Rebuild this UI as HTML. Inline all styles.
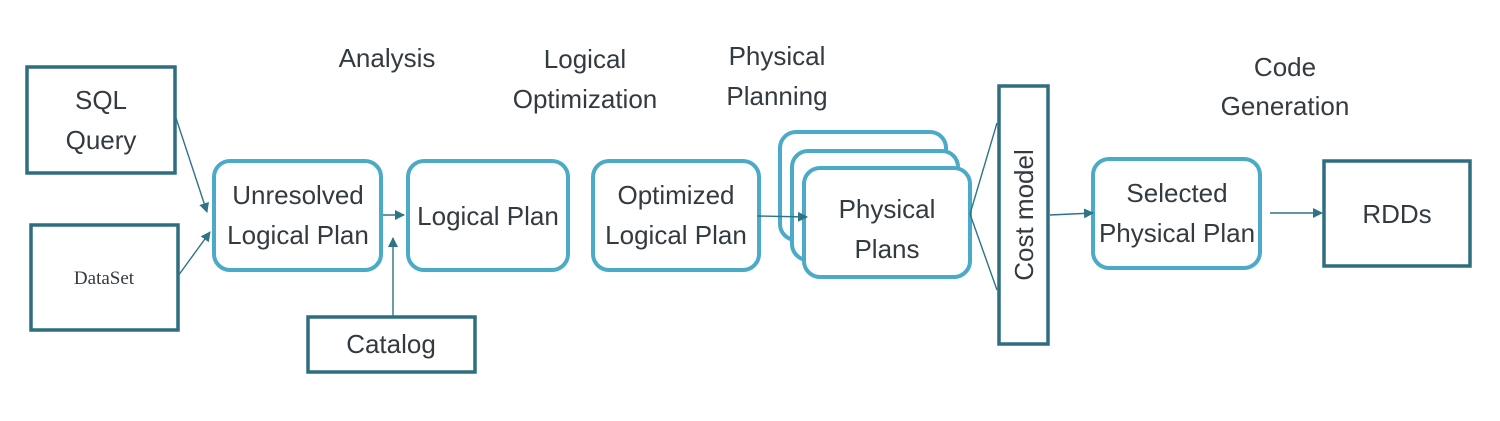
<!DOCTYPE html>
<html><head><meta charset="utf-8"><style>
html,body{margin:0;padding:0;background:#fff;}
svg{display:block;}
text{font-family:"Liberation Sans",sans-serif;fill:#333a40;font-size:26px;text-anchor:middle;}
</style></head><body>
<svg width="1500" height="421" viewBox="0 0 1500 421" xmlns="http://www.w3.org/2000/svg">
<defs>
<marker id="a" markerWidth="10" markerHeight="10" refX="9" refY="5" orient="auto" markerUnits="userSpaceOnUse">
<path d="M0,0 L10,5 L0,10 z" fill="#2e7486"/></marker>
</defs>
<g fill="none" stroke="#2e6e80" stroke-width="3.5">
<rect x="27" y="67" width="148" height="106"/>
<rect x="31" y="225" width="147" height="105"/>
<rect x="308" y="317" width="167" height="55"/>
<rect x="999" y="86" width="49" height="258"/>
<rect x="1324" y="161" width="146" height="105"/>
</g>
<g fill="#fff" stroke="#4aaac8" stroke-width="4">
<rect x="214" y="161" width="167" height="109" rx="16"/>
<rect x="408" y="161" width="160" height="109" rx="16"/>
<rect x="593" y="161" width="166" height="109" rx="16"/>
<rect x="780" y="132" width="166" height="108" rx="16"/>
<rect x="792" y="151" width="166" height="109" rx="16"/>
<rect x="804" y="168" width="166" height="109" rx="16"/>
<rect x="1093" y="159" width="167" height="109" rx="16"/>
</g>
<g stroke="#2e7486" stroke-width="1.4" fill="none">
<line x1="175" y1="115" x2="207" y2="212" marker-end="url(#a)"/>
<line x1="178" y1="276" x2="210" y2="232" marker-end="url(#a)"/>
<line x1="383" y1="215" x2="404" y2="215" marker-end="url(#a)"/>
<line x1="393" y1="316" x2="393" y2="238" marker-end="url(#a)"/>
<line x1="757" y1="216" x2="807" y2="217" marker-end="url(#a)"/>
<line x1="970" y1="214" x2="997" y2="123"/>
<line x1="970" y1="214" x2="997" y2="290"/>
<line x1="1050" y1="215" x2="1093" y2="213" marker-end="url(#a)"/>
<line x1="1270" y1="213" x2="1322" y2="213" marker-end="url(#a)"/>
</g>
<text x="101" y="109">SQL</text>
<text x="101" y="149">Query</text>
<text x="104" y="284" style="font-family:'Liberation Serif',serif;font-size:19px">DataSet</text>
<text x="298" y="204">Unresolved</text>
<text x="298" y="244">Logical Plan</text>
<text x="488" y="225">Logical Plan</text>
<text x="676" y="204">Optimized</text>
<text x="676" y="244">Logical Plan</text>
<text x="887" y="218">Physical</text>
<text x="887" y="258">Plans</text>
<text x="1177" y="202">Selected</text>
<text x="1177" y="242">Physical Plan</text>
<text x="1397" y="223">RDDs</text>
<text x="391" y="353">Catalog</text>
<text transform="translate(1033,215) rotate(-90)">Cost model</text>
<text x="387" y="67">Analysis</text>
<text x="585" y="68">Logical</text>
<text x="585" y="108">Optimization</text>
<text x="777" y="65">Physical</text>
<text x="777" y="105">Planning</text>
<text x="1285" y="76">Code</text>
<text x="1285" y="115">Generation</text>
</svg>
</body></html>
